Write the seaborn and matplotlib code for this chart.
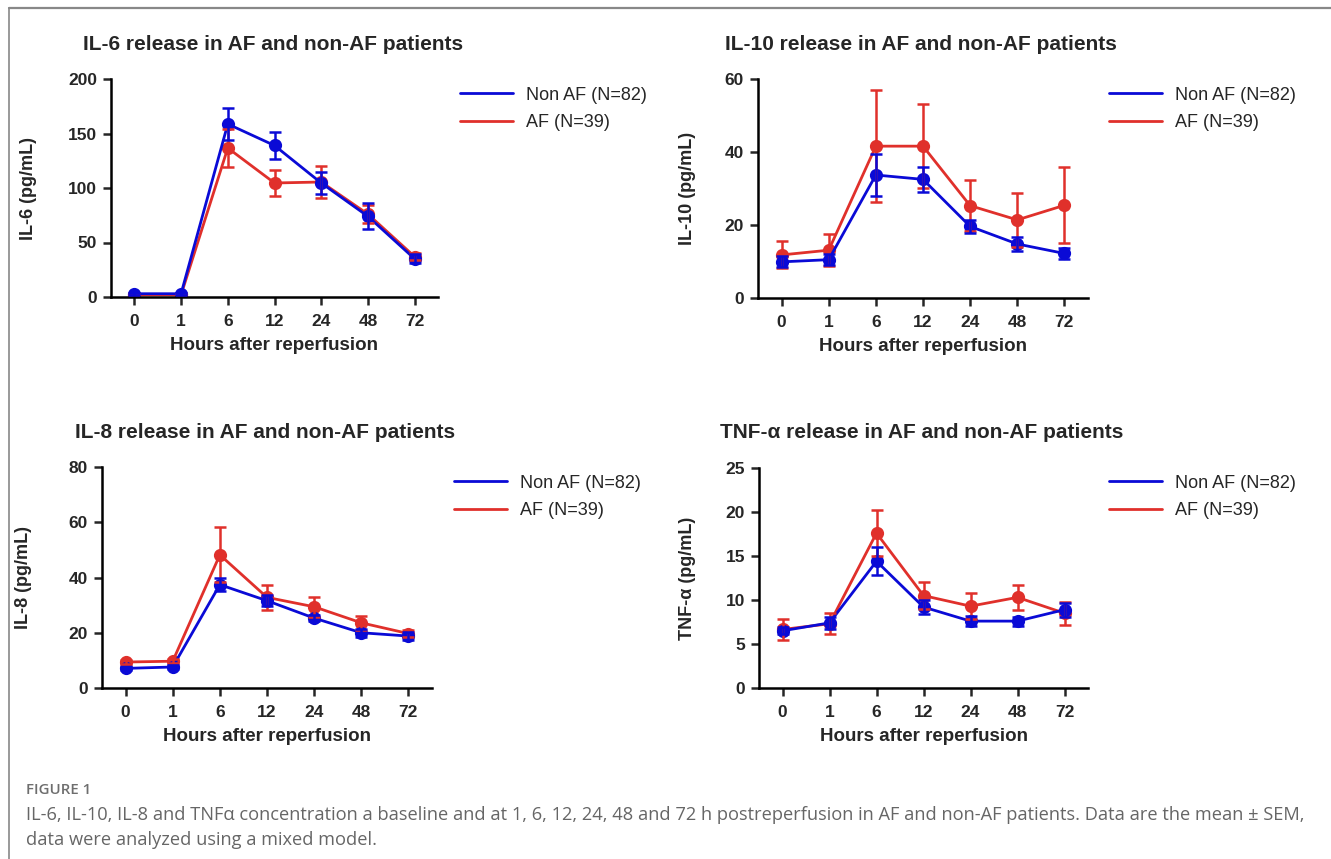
import numpy as np
import pandas as pd
import seaborn as sns
import matplotlib.pyplot as plt
from matplotlib.lines import Line2D

sns.set_style("white")
plt.rcParams['font.family'] = ['Liberation Sans', 'DejaVu Sans']

hours = ['0', '1', '6', '12', '24', '48', '72']
groups = ['Non AF (N=82)', 'AF (N=39)']
colors = {'Non AF (N=82)': '#0a0ad6', 'AF (N=39)': '#e0302b'}

# IL-6
il6_non = [3, 3, 158.7, 139, 104.6, 74, 35]
il6_non_err = [1, 1, 15, 12, 10.5, 12, 4]
il6_af = [2, 2, 136.7, 104.6, 105.5, 76, 37]
il6_af_err = [1, 1, 17, 11.6, 15, 8, 3]

# IL-10
il10_non = [9.9, 10.5, 33.7, 32.5, 19.6, 14.8, 12.2]
il10_non_err = [1.5, 1.5, 5.8, 3.4, 1.8, 2.0, 1.5]
il10_af = [11.8, 13.1, 41.6, 41.6, 25.3, 21.4, 25.4]
il10_af_err = [3.7, 4.3, 15.3, 11.5, 6.9, 7.4, 10.4]

# IL-8
il8_non = [7.1, 7.6, 37.4, 31.6, 25.3, 20.0, 18.8]
il8_non_err = [0.6, 0.6, 2.3, 2.0, 1.0, 1.5, 1.3]
il8_af = [9.4, 9.7, 48.2, 32.8, 29.4, 23.6, 19.7]
il8_af_err = [0.8, 0.8, 9.9, 4.4, 3.6, 2.5, 1.3]

# TNF-alpha
tnf_non = [6.5, 7.4, 14.4, 9.2, 7.6, 7.6, 8.9]
tnf_non_err = [0.4, 0.7, 1.6, 0.8, 0.6, 0.5, 0.8]
tnf_af = [6.65, 7.3, 17.6, 10.5, 9.3, 10.3, 8.5]
tnf_af_err = [1.15, 1.2, 2.6, 1.5, 1.5, 1.4, 1.3]

panels = [
    ('IL-6 release in AF and non-AF patients', 'IL-6 (pg/mL)', il6_non, il6_non_err, il6_af, il6_af_err, 200, 50),
    ('IL-10 release in AF and non-AF patients', 'IL-10 (pg/mL)', il10_non, il10_non_err, il10_af, il10_af_err, 60, 20),
    ('IL-8 release in AF and non-AF patients', 'IL-8 (pg/mL)', il8_non, il8_non_err, il8_af, il8_af_err, 80, 20),
    ('TNF-α release in AF and non-AF patients', 'TNF-α (pg/mL)', tnf_non, tnf_non_err, tnf_af, tnf_af_err, 25, 5),
]

W, H = 1331, 859
fig = plt.figure(figsize=(W / 100, H / 100), dpi=100)

# pixel boxes: left, right, top, bottom
boxes = [(111, 438, 79, 297), (758, 1088, 79, 298), (102, 432, 467, 688), (759, 1088, 468, 688)]
title_pos = [(83, 44), (725, 44), (75, 433), (720, 433)]
legend_pos = [(444, 109), (1093, 109), (438, 497), (1093, 497)]
ylabel_x = [37, 696, 32, 696]

for (title, ylab, non, non_err, af, af_err, ymax, ystep), (l, r, t, b), (tx, ty), (lx, ly), yx in zip(
        panels, boxes, title_pos, legend_pos, ylabel_x):
    ax = fig.add_axes([l / W, 1 - b / H, (r - l) / W, (b - t) / H])
    df = pd.DataFrame({
        'pos': list(range(len(hours))) * 2,
        'value': af + non,
        'group': [groups[1]] * len(hours) + [groups[0]] * len(hours),
    })
    sns.lineplot(data=df, x='pos', y='value', hue='group', hue_order=[groups[1], groups[0]],
                 palette=colors, marker='o', markersize=9.5, markeredgewidth=0,
                 linewidth=2.0, legend=False, ax=ax)
    for g, vals, errs, z in [(groups[1], af, af_err, 2), (groups[0], non, non_err, 3)]:
        ax.errorbar(range(len(hours)), vals, yerr=errs, fmt='none', ecolor=colors[g],
                    elinewidth=1.8, capsize=4, capthick=1.8, zorder=z)
    ax.set_xlim(-0.5, 6.5)
    ax.set_ylim(0, ymax)
    ax.set_xticks(range(len(hours)))
    ax.set_xticklabels(hours)
    ax.set_yticks(np.arange(0, ymax + 1, ystep))
    for s in ['top', 'right']:
        ax.spines[s].set_visible(False)
    for s in ['left', 'bottom']:
        ax.spines[s].set_linewidth(1.8)
        ax.spines[s].set_color('black')
    ax.tick_params(axis='both', which='both', direction='out', length=6, width=1.8,
                   labelsize=12.5, bottom=True, left=True, pad=4)
    ax.tick_params(axis='x', pad=6)
    for lab in ax.get_xticklabels() + ax.get_yticklabels():
        lab.set_fontweight('bold')
    ax.set_xlabel('Hours after reperfusion', fontsize=13.5, fontweight='bold', labelpad=6)
    ax.set_ylabel(ylab, fontsize=13, fontweight='bold')
    ax.yaxis.set_label_coords((yx - l) / (r - l), 0.5)
    fig.text(tx / W, 1 - ty / H, title, fontsize=15, fontweight='bold', va='center', ha='left')
    handles = [Line2D([], [], color=colors[g], linewidth=2.0) for g in groups]
    ax.legend(handles, groups, loc='center left', bbox_to_anchor=(lx / W, 1 - ly / H),
              bbox_transform=fig.transFigure, frameon=False, fontsize=13,
              handlelength=2.9, handletextpad=0.75, labelspacing=0.6)

# frame lines
fig.add_artist(Line2D([9 / W, 9 / W], [0, 1 - 8 / H], color='#888888', linewidth=1.2))
fig.add_artist(Line2D([9 / W, 1], [1 - 8 / H, 1 - 8 / H], color='#888888', linewidth=1.6))

cap_font = ['Open Sans', 'DejaVu Sans']
fig.text(26 / W, 1 - 790 / H, 'FIGURE 1', fontsize=10.8, color='#6e6e6e', family=cap_font,
         fontweight='semibold', va='center', ha='left')
fig.text(26 / W, 1 - 815 / H,
         'IL-6, IL-10, IL-8 and TNFα concentration a baseline and at 1, 6, 12, 24, 48 and 72 h postreperfusion '
         'in AF and non-AF patients. Data are the mean ± SEM,',
         fontsize=13.15, color='#666666', family=cap_font, va='center', ha='left')
fig.text(26 / W, 1 - 840 / H, 'data were analyzed using a mixed model.',
         fontsize=13.15, color='#666666', family=cap_font, va='center', ha='left')

fig.savefig('out.png', dpi=100)
